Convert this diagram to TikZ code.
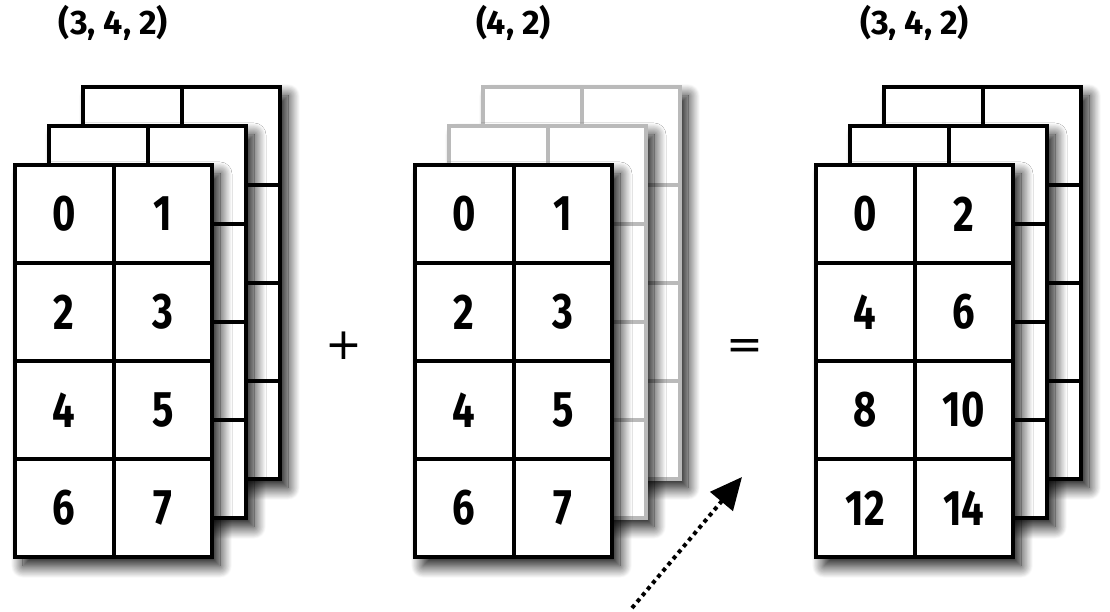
\documentclass[tikz,border=0pt]{standalone}
\usepackage{fontspec}
\setmainfont[FakeStretch=0.8]{Fira Sans}
\newfontfamily\shapefont{Fira Sans}
\newfontfamily\opfont{DejaVu Sans}
\usetikzlibrary{positioning, arrows.meta, shadows.blur}

\begin{document}
\begin{tikzpicture}[x=1pt, y=1pt,
    gridline/.style={line width=4pt},
    layer/.style={fill=white, blur shadow={shadow xshift=8pt, shadow yshift=-9pt, shadow blur radius=12pt, shadow blur steps=20, shadow opacity=95}},
    numnode/.style={font=\fontsize{50}{60}\selectfont\bfseries},
    shapelabel/.style={font=\shapefont\fontsize{34}{40}\selectfont\bfseries},
    opnode/.style={font=\opfont\fontsize{44}{50}\selectfont, inner sep=0pt},
    arrowstyle/.style={-{Triangle[length=32pt, width=29pt, fill=black]}, line width=4pt, dash pattern=on 4pt off 4pt}
]
\useasboundingbox (0,0) rectangle (1110,612);

% Stacks of layers (left x of front layer / colour of back layers)
\foreach \sx/\bcol in {15/black, 415/black!27, 816/black} {
  \foreach \k in {2,1,0} {
    \def\lcol{\bcol}
    \ifnum\k=0 \def\lcol{black}\fi
    \pgfmathsetmacro\lx{\sx+34*\k}
    \pgfmathsetmacro\ly{55+39*\k}
    \draw[gridline, layer, draw=\lcol] (\lx,\ly) rectangle ++(197,392);
    \draw[gridline, draw=\lcol] (\lx+98.5,\ly) -- ++(0,392);
    \foreach \r in {1,2,3}
      \draw[gridline, draw=\lcol] (\lx,\ly+98*\r) -- ++(197,0);
  }
}

% Cell values
\foreach \v [count=\i from 0] in {0,1,...,7} {
  \pgfmathtruncatemacro\row{div(\i,2)}
  \pgfmathtruncatemacro\col{mod(\i,2)}
  \node[numnode] (a\i) at (64.25+98.5*\col, 398-98*\row) {\v};
  \node[numnode] (b\i) at (464.25+98.5*\col, 398-98*\row) {\v};
}
\foreach \v [count=\i from 0] in {0,2,...,14} {
  \pgfmathtruncatemacro\row{div(\i,2)}
  \pgfmathtruncatemacro\col{mod(\i,2)}
  \node[numnode] (c\i) at (865.25+98.5*\col, 398-98*\row) {\v};
}

% Shapes
\node[shapelabel] (ashape) at (113.5,589) {(3, 4, 2)};
\node[shapelabel] (bshape) at (513.5,589) {(4, 2)};
\node[shapelabel] (cshape) at (914.5,589) {(3, 4, 2)};

% Operators
\node[opnode] (plus) at (344,266) {+};
\node[opnode] (equals) at (744.5,262) {=};

% Broadcast arrow
\coordinate (arrowtail) at (632,4);
\coordinate (arrowtip) at (742,135);
\draw[arrowstyle] (arrowtail) -- (arrowtip);

\end{tikzpicture}
\end{document}
